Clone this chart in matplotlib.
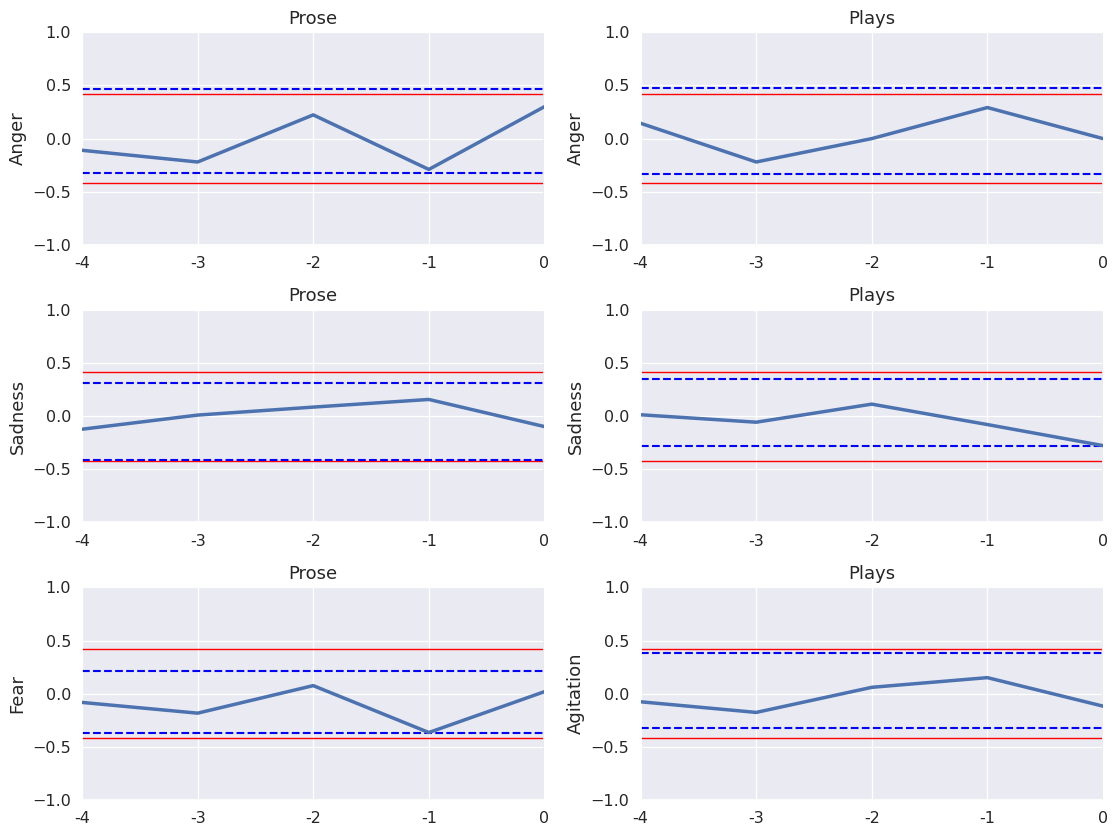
import matplotlib
matplotlib.use("Agg")
import matplotlib.pyplot as plt
import seaborn as sns

sns.set_theme(style="darkgrid", context="notebook")
plt.rcParams["grid.linewidth"] = 0.9

lags = [-4, -3, -2, -1, 0]
lag_labels = ["-4", "-3", "-2", "-1", "0"]

titles = ["Prose", "Plays", "Prose", "Plays", "Prose", "Plays"]
ylabels = ["Anger", "Anger", "Sadness", "Sadness", "Fear", "Agitation"]

prose_anger = [-0.11, -0.22, 0.223, -0.29, 0.30]
plays_anger = [0.144, -0.22, 0.0, 0.292, 0.0]
prose_sadness = [-0.123, 0.01, 0.085, 0.157, -0.098]
plays_sadness = [0.013, -0.057, 0.113, -0.079, -0.277]
prose_fear = [-0.082, -0.183, 0.076, -0.365, 0.019]
plays_agitation = [-0.076, -0.176, 0.06, 0.151, -0.117]
series = [prose_anger, plays_anger, prose_sadness, plays_sadness, prose_fear, plays_agitation]

# dashed (blue) bounds: upper, lower
dashed_upper = [0.465, 0.474, 0.309, 0.35, 0.217, 0.384]
dashed_lower = [-0.323, -0.33, -0.413, -0.277, -0.365, -0.321]
# red bounds
red_bound = 0.418

fig, axes = plt.subplots(3, 2, figsize=(11.13, 8.27), dpi=100)
for i, ax in enumerate(axes.flat):
    ax.plot(lags, series[i], color="#4C72B0", lw=2.5, zorder=3)
    ax.axhline(red_bound, color="red", lw=1)
    ax.axhline(-red_bound, color="red", lw=1)
    ax.axhline(dashed_upper[i], color="blue", ls="--", lw=1.5)
    ax.axhline(dashed_lower[i], color="blue", ls="--", lw=1.5)
    ax.axvline(0, color="#555555", lw=1.2)
    ax.set_xlim(-4, 0)
    ax.set_ylim(-1, 1)
    ax.set_yticks([-1.0, -0.5, 0.0, 0.5, 1.0])
    ax.set_xticks(lags)
    ax.set_xticklabels(lag_labels)
    ax.set_title(titles[i], fontsize=13)
    ax.set_ylabel(ylabels[i], fontsize=13)
    ax.tick_params(labelsize=11.5, pad=2)

fig.subplots_adjust(left=0.0737, right=0.991, top=0.961, bottom=0.0326,
                    wspace=0.208, hspace=0.305)
fig.savefig("out.png", dpi=100)
